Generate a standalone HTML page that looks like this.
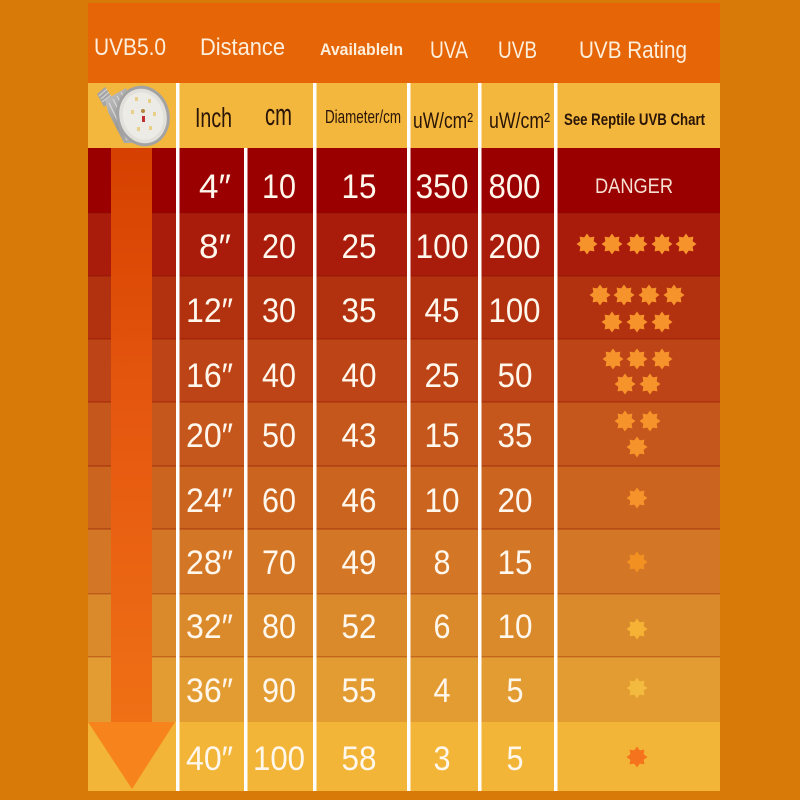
<!DOCTYPE html>
<html>
<head>
<meta charset="utf-8">
<style>
  html, body { margin: 0; padding: 0; background: #D87A07; }
  svg { display: block; }
  text { font-family: "Liberation Sans", "Noto Sans CJK SC", "DejaVu Sans", sans-serif; }
</style>
</head>
<body>
<svg width="800" height="800" viewBox="0 0 800 800" xmlns="http://www.w3.org/2000/svg">
  <defs>
    <polygon id="st" points="0,-10.5 2.76,-6.65 7.42,-7.42 6.65,-2.76 10.5,0 6.65,2.76 7.42,7.42 2.76,6.65 0,10.5 -2.76,6.65 -7.42,7.42 -6.65,2.76 -10.5,0 -6.65,-2.76 -7.42,-7.42 -2.76,-6.65"/>
    <linearGradient id="shaft" x1="0" y1="148" x2="0" y2="722" gradientUnits="userSpaceOnUse">
      <stop offset="0" stop-color="#D64000"/>
      <stop offset="0.45" stop-color="#E5570F"/>
      <stop offset="1" stop-color="#EF7015"/>
    </linearGradient>
    <linearGradient id="metal" x1="0" y1="0" x2="1" y2="1">
      <stop offset="0" stop-color="#c8c8c8"/>
      <stop offset="0.5" stop-color="#9a9a9a"/>
      <stop offset="1" stop-color="#b8b8b8"/>
    </linearGradient>
  </defs>

  <!-- background -->
  <rect x="0" y="0" width="800" height="800" fill="#D87A07"/>

  <!-- header -->
  <rect x="88" y="3" width="632" height="80" fill="#E56507"/>
  <!-- sub-header -->
  <rect x="88" y="83" width="632" height="65" fill="#F3B73E"/>

  <!-- rows -->
  <rect x="88" y="148" width="632" height="65" fill="#9B0000"/>
  <rect x="88" y="213" width="632" height="63" fill="#A91C0C"/>
  <rect x="88" y="276" width="632" height="63" fill="#B2310F"/>
  <rect x="88" y="339" width="632" height="63" fill="#BD4416"/>
  <rect x="88" y="402" width="632" height="64" fill="#C5571C"/>
  <rect x="88" y="466" width="632" height="63" fill="#CB641F"/>
  <rect x="88" y="529" width="632" height="65" fill="#D37727"/>
  <rect x="88" y="594" width="632" height="63" fill="#DA892B"/>
  <rect x="88" y="657" width="632" height="65" fill="#E39C31"/>
  <rect x="88" y="722" width="632" height="69" fill="#F2B537"/>

  <!-- row separators -->
  <g fill="#8A1000" opacity="0.28">
    <rect x="88" y="212" width="632" height="2"/>
    <rect x="88" y="275" width="632" height="2"/>
    <rect x="88" y="338" width="632" height="2"/>
    <rect x="88" y="401" width="632" height="2"/>
    <rect x="88" y="465" width="632" height="2"/>
    <rect x="88" y="528" width="632" height="2"/>
    <rect x="88" y="593" width="632" height="1.5"/>
    <rect x="88" y="656" width="632" height="1.5"/>
  </g>

  <!-- arrow -->
  <rect x="111" y="148" width="41" height="574" fill="url(#shaft)"/>
  <polygon points="88,722 175,722 132,789" fill="#F6831B"/>

  <!-- bulb -->
  <g>
    <!-- screw base -->
    <polygon points="97,94 105,87 113,99 104,107" fill="#a6a6a6"/>
    <g stroke="#d8d8d8" stroke-width="1">
      <line x1="99" y1="96" x2="107" y2="89"/>
      <line x1="101" y1="99" x2="109" y2="92"/>
      <line x1="102" y1="102" x2="111" y2="95"/>
    </g>
    <!-- finned body -->
    <polygon points="105,100 126,88 146,143 124,143 108,112" fill="url(#metal)"/>
    <g stroke="#e0e0e0" stroke-width="1.3" opacity="0.8">
      <line x1="109" y1="103" x2="127" y2="140"/>
      <line x1="113" y1="99" x2="133" y2="139"/>
      <line x1="117" y1="96" x2="139" y2="137"/>
      <line x1="121" y1="92" x2="144" y2="134"/>
    </g>
    <!-- face -->
    <ellipse cx="143" cy="116" rx="25" ry="29" transform="rotate(-15 143 116)" fill="#e2e0da" stroke="#a3a3a3" stroke-width="3"/>
    <ellipse cx="143" cy="116" rx="20" ry="24" transform="rotate(-15 143 116)" fill="#ecebe6"/>
    <g fill="#e8cf8a">
      <rect x="135" y="97" width="3" height="4"/>
      <rect x="148" y="99" width="3" height="4"/>
      <rect x="131" y="110" width="3" height="4"/>
      <rect x="153" y="112" width="3" height="4"/>
      <rect x="137" y="127" width="3" height="4"/>
      <rect x="149" y="126" width="3" height="4"/>
    </g>
    <rect x="142" y="116" width="3" height="6" fill="#c03030"/>
    <circle cx="143" cy="111" r="2" fill="#b08a40"/>
  </g>

  <!-- vertical white lines -->
  <g fill="#FFFFFF">
    <rect x="176" y="83" width="3.5" height="708"/>
    <rect x="244" y="148" width="3.5" height="643"/>
    <rect x="313" y="83" width="3.5" height="708"/>
    <rect x="407" y="83" width="3.5" height="708"/>
    <rect x="478" y="83" width="3.5" height="708"/>
    <rect x="554" y="83" width="3.5" height="708"/>
  </g>

  <!-- header text -->
  <g fill="#FDEFDC">
    <text x="94" y="55" font-size="24" textLength="72" lengthAdjust="spacingAndGlyphs">UVB5.0</text>
    <text x="200" y="55" font-size="24" textLength="85" lengthAdjust="spacingAndGlyphs">Distance</text>
    <text x="320" y="55" font-size="17" font-weight="bold" textLength="83" lengthAdjust="spacingAndGlyphs">AvailableIn</text>
    <text x="430" y="58" font-size="24" textLength="38" lengthAdjust="spacingAndGlyphs">UVA</text>
    <text x="498" y="58" font-size="24" textLength="39" lengthAdjust="spacingAndGlyphs">UVB</text>
    <text x="579" y="58" font-size="24" textLength="108" lengthAdjust="spacingAndGlyphs">UVB Rating</text>
  </g>

  <!-- sub-header text -->
  <g fill="#2A1507">
    <text x="195" y="127" font-size="28" textLength="37" lengthAdjust="spacingAndGlyphs">Inch</text>
    <text x="265" y="125" font-size="31" textLength="27" lengthAdjust="spacingAndGlyphs">cm</text>
    <text x="325" y="123" font-size="18" textLength="76" lengthAdjust="spacingAndGlyphs">Diameter/cm</text>
    <text x="413" y="128" font-size="22" textLength="60" lengthAdjust="spacingAndGlyphs">uW/cm²</text>
    <text x="489" y="128" font-size="22" textLength="61" lengthAdjust="spacingAndGlyphs">uW/cm²</text>
    <text x="564" y="125" font-size="17" font-weight="bold" textLength="141" lengthAdjust="spacingAndGlyphs">See Reptile UVB Chart</text>
  </g>

  <!-- data text -->
  <g fill="#FFF7EC" font-size="34">
    <!-- row 1 -->
    <text x="199" y="198" textLength="32" lengthAdjust="spacingAndGlyphs">4″</text>
    <text x="262" y="198" textLength="34" lengthAdjust="spacingAndGlyphs">10</text>
    <text x="341.5" y="198" textLength="35" lengthAdjust="spacingAndGlyphs">15</text>
    <text x="415.5" y="198" textLength="53" lengthAdjust="spacingAndGlyphs">350</text>
    <text x="488.5" y="198" textLength="52" lengthAdjust="spacingAndGlyphs">800</text>
    <!-- row 2 -->
    <text x="199" y="258" textLength="32" lengthAdjust="spacingAndGlyphs">8″</text>
    <text x="262" y="258" textLength="34" lengthAdjust="spacingAndGlyphs">20</text>
    <text x="341.5" y="258" textLength="35" lengthAdjust="spacingAndGlyphs">25</text>
    <text x="415.5" y="258" textLength="53" lengthAdjust="spacingAndGlyphs">100</text>
    <text x="488.5" y="258" textLength="52" lengthAdjust="spacingAndGlyphs">200</text>
    <!-- row 3 -->
    <text x="186" y="322" textLength="47" lengthAdjust="spacingAndGlyphs">12″</text>
    <text x="262" y="322" textLength="34" lengthAdjust="spacingAndGlyphs">30</text>
    <text x="341.5" y="322" textLength="35" lengthAdjust="spacingAndGlyphs">35</text>
    <text x="424.5" y="322" textLength="35" lengthAdjust="spacingAndGlyphs">45</text>
    <text x="488.5" y="322" textLength="52" lengthAdjust="spacingAndGlyphs">100</text>
    <!-- row 4 -->
    <text x="186" y="387" textLength="47" lengthAdjust="spacingAndGlyphs">16″</text>
    <text x="262" y="387" textLength="34" lengthAdjust="spacingAndGlyphs">40</text>
    <text x="341.5" y="387" textLength="35" lengthAdjust="spacingAndGlyphs">40</text>
    <text x="424.5" y="387" textLength="35" lengthAdjust="spacingAndGlyphs">25</text>
    <text x="497.5" y="387" textLength="35" lengthAdjust="spacingAndGlyphs">50</text>
    <!-- row 5 -->
    <text x="186" y="447" textLength="47" lengthAdjust="spacingAndGlyphs">20″</text>
    <text x="262" y="447" textLength="34" lengthAdjust="spacingAndGlyphs">50</text>
    <text x="341.5" y="447" textLength="35" lengthAdjust="spacingAndGlyphs">43</text>
    <text x="424.5" y="447" textLength="35" lengthAdjust="spacingAndGlyphs">15</text>
    <text x="497.5" y="447" textLength="35" lengthAdjust="spacingAndGlyphs">35</text>
    <!-- row 6 -->
    <text x="186" y="512" textLength="47" lengthAdjust="spacingAndGlyphs">24″</text>
    <text x="262" y="512" textLength="34" lengthAdjust="spacingAndGlyphs">60</text>
    <text x="341.5" y="512" textLength="35" lengthAdjust="spacingAndGlyphs">46</text>
    <text x="424.5" y="512" textLength="35" lengthAdjust="spacingAndGlyphs">10</text>
    <text x="497.5" y="512" textLength="35" lengthAdjust="spacingAndGlyphs">20</text>
    <!-- row 7 -->
    <text x="186" y="574" textLength="47" lengthAdjust="spacingAndGlyphs">28″</text>
    <text x="262" y="574" textLength="34" lengthAdjust="spacingAndGlyphs">70</text>
    <text x="341.5" y="574" textLength="35" lengthAdjust="spacingAndGlyphs">49</text>
    <text x="433.5" y="574" textLength="17" lengthAdjust="spacingAndGlyphs">8</text>
    <text x="497.5" y="574" textLength="35" lengthAdjust="spacingAndGlyphs">15</text>
    <!-- row 8 -->
    <text x="186" y="638" textLength="47" lengthAdjust="spacingAndGlyphs">32″</text>
    <text x="262" y="638" textLength="34" lengthAdjust="spacingAndGlyphs">80</text>
    <text x="341.5" y="638" textLength="35" lengthAdjust="spacingAndGlyphs">52</text>
    <text x="433.5" y="638" textLength="17" lengthAdjust="spacingAndGlyphs">6</text>
    <text x="497.5" y="638" textLength="35" lengthAdjust="spacingAndGlyphs">10</text>
    <!-- row 9 -->
    <text x="186" y="702" textLength="47" lengthAdjust="spacingAndGlyphs">36″</text>
    <text x="262" y="702" textLength="34" lengthAdjust="spacingAndGlyphs">90</text>
    <text x="341.5" y="702" textLength="35" lengthAdjust="spacingAndGlyphs">55</text>
    <text x="433.5" y="702" textLength="17" lengthAdjust="spacingAndGlyphs">4</text>
    <text x="506.5" y="702" textLength="17" lengthAdjust="spacingAndGlyphs">5</text>
    <!-- row 10 -->
    <text x="186" y="770" textLength="47" lengthAdjust="spacingAndGlyphs">40″</text>
    <text x="253" y="770" textLength="52" lengthAdjust="spacingAndGlyphs">100</text>
    <text x="341.5" y="770" textLength="35" lengthAdjust="spacingAndGlyphs">58</text>
    <text x="433.5" y="770" textLength="17" lengthAdjust="spacingAndGlyphs">3</text>
    <text x="506.5" y="770" textLength="17" lengthAdjust="spacingAndGlyphs">5</text>
  </g>

  <!-- DANGER -->
  <text x="595" y="193" font-size="21" fill="#F6E0D4" textLength="78" lengthAdjust="spacingAndGlyphs">DANGER</text>

  <!-- stars -->
  <g fill="#F7932B">
    <use href="#st" x="587" y="244"/>
    <use href="#st" x="612" y="244"/>
    <use href="#st" x="637" y="244"/>
    <use href="#st" x="662" y="244"/>
    <use href="#st" x="686" y="244"/>

    <use href="#st" x="600" y="295"/>
    <use href="#st" x="624" y="295"/>
    <use href="#st" x="649" y="295"/>
    <use href="#st" x="674" y="295"/>
    <use href="#st" x="612" y="322"/>
    <use href="#st" x="637" y="322"/>
    <use href="#st" x="662" y="322"/>

    <use href="#st" x="613" y="359"/>
    <use href="#st" x="637" y="359"/>
    <use href="#st" x="662" y="359"/>
    <use href="#st" x="625" y="384"/>
    <use href="#st" x="650" y="384"/>

    <use href="#st" x="625" y="421"/>
    <use href="#st" x="650" y="421"/>
    <use href="#st" x="637" y="447"/>

    <use href="#st" x="637" y="498"/>
  </g>
  <use href="#st" x="637" y="562" fill="#F39022"/>
  <use href="#st" x="637" y="629" fill="#F6B235"/>
  <use href="#st" x="637" y="688" fill="#F2BA3E"/>
  <use href="#st" x="637" y="757" fill="#F5731C"/>
</svg>
</body>
</html>
